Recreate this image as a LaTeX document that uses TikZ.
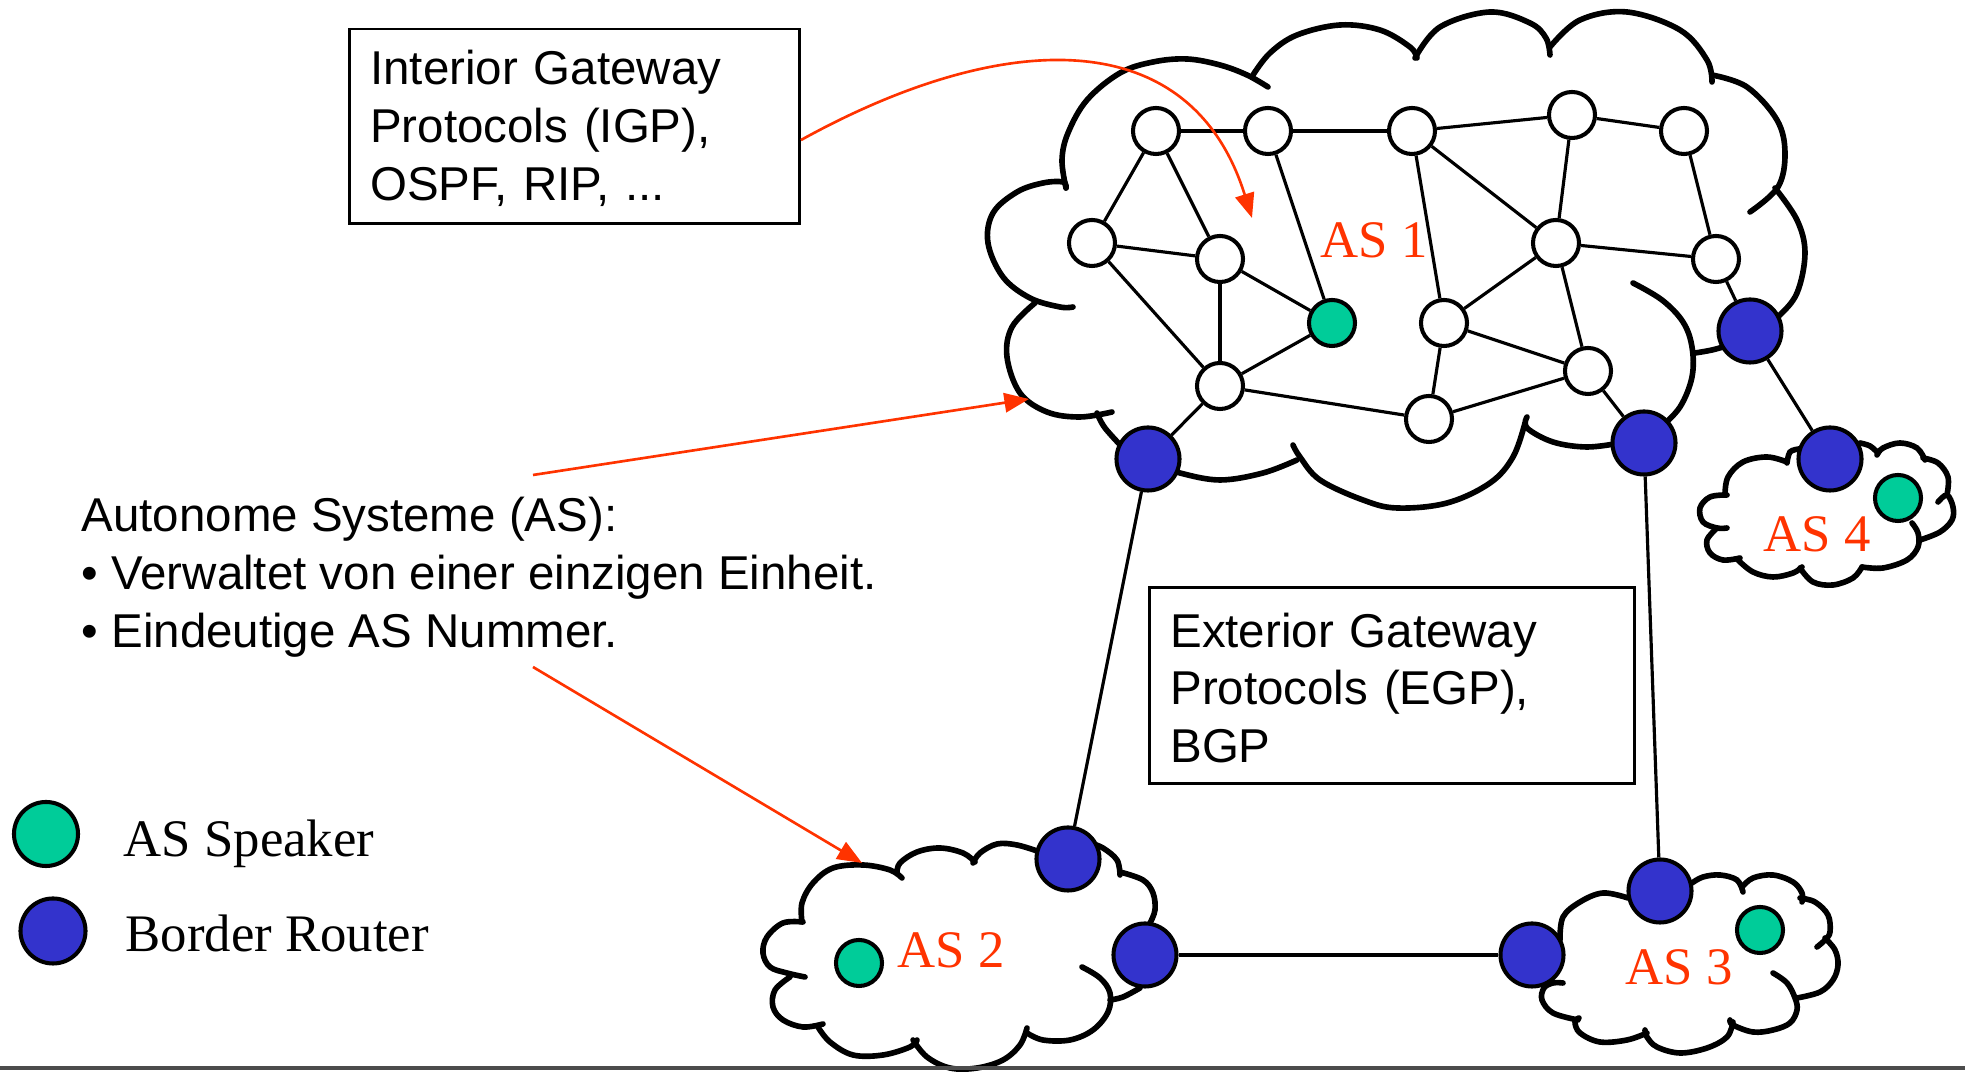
\documentclass[tikz,border=0pt]{standalone}
\usepackage{fontspec}
\setmainfont{Liberation Sans}
\newfontfamily\timesf{Liberation Serif}
\usetikzlibrary{arrows.meta}
\definecolor{asred}{RGB}{255,51,0}
\definecolor{asgreen}{RGB}{0,204,153}
\definecolor{asblue}{RGB}{51,51,204}
\newcommand\cloudarc[1]{\draw[cloudline] plot[smooth,tension=0.6] coordinates {#1};}
\begin{document}
\begin{tikzpicture}[x=0.01cm,y=-0.01cm,
  cloudline/.style={line width=1.6pt, line cap=round},
  router/.style={circle, draw, line width=1.15pt, fill=white, minimum size=0.46cm, inner sep=0},
  speaker/.style={router, fill=asgreen},
  border/.style={circle, draw, line width=1.15pt, fill=asblue, minimum size=0.63cm, inner sep=0},
  link/.style={line width=0.9pt},
  callout/.style={draw=asred, line width=0.75pt, -{Triangle[length=7pt,width=5.5pt]}},
  txtbox/.style={draw, line width=0.75pt, align=left, inner xsep=0.21cm, inner ysep=0, font=\fontsize{13.5}{16.4}\selectfont},
  sans/.style={font=\fontsize{13.5}{16.4}\selectfont, inner sep=0, anchor=base west},
  aslabel/.style={font=\timesf\fontsize{15}{18}\selectfont, text=asred, inner sep=0, anchor=base west},
  legendtext/.style={font=\timesf\fontsize{15}{18}\selectfont, inner sep=0, anchor=base west},
]
\useasboundingbox (0,0) rectangle (1965,1074);

% ---------- AS 1 cloud ----------
\cloudarc{(1066,188) (1062,160) (1068,133) (1087,100) (1120,73) (1153,62) (1187,59) (1220,65) (1247,75) (1268,87)}
\cloudarc{(1253,75) (1270,53) (1297,35) (1340,25) (1380,30) (1410,47) (1417,58)}
\cloudarc{(1415,58) (1440,27) (1490,12) (1530,23) (1546,38) (1550,55)}
\cloudarc{(1550,47) (1580,20) (1627,12) (1680,30) (1707,60) (1712,82)}
\cloudarc{(1712,75) (1747,87) (1777,120) (1785,153) (1778,187) (1750,212)}
\cloudarc{(1775,188) (1797,220) (1805,253) (1797,293) (1778,317) (1760,332)}
\cloudarc{(1730,345) (1712,350) (1695,353)}
\cloudarc{(1633,283) (1662,300) (1683,322) (1692,347) (1692,377) (1680,407) (1660,428)}
\cloudarc{(1620,443) (1587,447) (1553,442) (1527,428) (1527,417)}
\cloudarc{(1525,423) (1513,457) (1490,483) (1447,503) (1397,508) (1363,500) (1320,480) (1300,457) (1293,445)}
\cloudarc{(1297,460) (1263,473) (1220,480) (1180,473) (1160,465)}
\cloudarc{(1097,413) (1105,428) (1125,450)}
\cloudarc{(1112,412) (1080,417) (1047,412) (1020,393) (1007,357) (1012,327) (1035,303)}
\cloudarc{(1073,307) (1060,307) (1030,298) (1003,277) (988,243) (993,213) (1017,192) (1043,183) (1063,182) (1066,188)}

% ---------- AS 2 cloud ----------
\cloudarc{(803,922) (783,923) (767,937) (763,953) (770,967) (787,973) (805,977)}
\cloudarc{(790,977) (775,990) (773,1007) (783,1020) (803,1027) (823,1024)}
\cloudarc{(818,1027) (830,1042) (853,1055) (883,1055) (910,1047) (917,1040)}
\cloudarc{(913,1040) (927,1057) (950,1068) (977,1068) (1003,1060) (1020,1045) (1027,1028)}
\cloudarc{(1027,1033) (1043,1040) (1070,1040) (1093,1030) (1108,1012) (1110,993) (1100,978) (1082,967)}
\cloudarc{(1110,1000) (1123,997) (1140,988)}
\cloudarc{(1150,923) (1155,910) (1153,893) (1143,880) (1120,872)}
\cloudarc{(1120,875) (1117,860) (1103,848) (1090,843)}
\cloudarc{(1040,852) (1017,845) (997,844) (980,853) (973,863)}
\cloudarc{(975,862) (963,853) (940,848) (917,852) (900,863) (897,873)}
\cloudarc{(902,878) (890,870) (863,865) (833,868) (813,883) (802,903) (802,922)}

% ---------- AS 3 cloud ----------
\cloudarc{(1560,940) (1563,917) (1580,902) (1603,893) (1628,898)}
\cloudarc{(1692,883) (1703,877) (1720,875) (1737,880) (1743,892)}
\cloudarc{(1742,887) (1753,878) (1773,875) (1793,882) (1802,893) (1802,902)}
\cloudarc{(1800,898) (1815,902) (1828,915) (1830,932) (1825,940) (1817,947)}
\cloudarc{(1825,938) (1835,950) (1838,965) (1833,980) (1820,992) (1797,998)}
\cloudarc{(1773,973) (1787,983) (1795,998) (1797,1010) (1790,1023) (1773,1030) (1753,1032) (1733,1025) (1730,1020)}
\cloudarc{(1733,1022) (1727,1037) (1707,1048) (1680,1053) (1657,1047) (1647,1037) (1645,1030)}
\cloudarc{(1647,1033) (1627,1040) (1600,1042) (1580,1033) (1575,1022) (1579,1018)}
\cloudarc{(1578,1020) (1553,1013) (1542,1000) (1544,988) (1553,983) (1563,983)}

% ---------- AS 4 cloud ----------
\cloudarc{(1799,449) (1790,452) (1787,463)}
\cloudarc{(1787,462) (1767,457) (1743,462) (1728,477) (1725,495)}
\cloudarc{(1727,495) (1710,497) (1700,508) (1703,522) (1717,528) (1727,528)}
\cloudarc{(1717,528) (1707,540) (1710,553) (1723,560) (1740,558)}
\cloudarc{(1738,560) (1753,572) (1773,577) (1793,573) (1802,567)}
\cloudarc{(1800,568) (1813,582) (1833,585) (1853,578) (1862,567)}
\cloudarc{(1862,567) (1883,568) (1907,560) (1918,547) (1918,533) (1912,523)}
\cloudarc{(1920,540) (1940,532) (1952,520) (1953,507) (1947,495) (1938,502)}
\cloudarc{(1947,495) (1948,477) (1938,463) (1923,458)}
\cloudarc{(1925,460) (1917,448) (1900,443) (1883,448) (1877,455)}
\cloudarc{(1878,453) (1870,446) (1860,443)}

% ---------- AS 1 routers ----------
\node[router] (n1) at (1156,131) {};
\node[router] (n2) at (1268,131) {};
\node[router] (n3) at (1412,131) {};
\node[router] (n4) at (1572,115) {};
\node[router] (n5) at (1684,131) {};
\node[router] (n6) at (1092,243) {};
\node[router] (n7) at (1220,259) {};
\node[speaker] (n8) at (1332,323) {};
\node[router] (n9) at (1556,243) {};
\node[router] (n10) at (1716,259) {};
\node[router] (n11) at (1444,323) {};
\node[router] (n12) at (1220,386) {};
\node[router] (n13) at (1588,371) {};
\node[router] (n14) at (1429,419) {};
\node[border] (b1) at (1148,459) {};
\node[border] (b2) at (1644,443) {};
\node[border] (b3) at (1750,331) {};

% ---------- other AS routers ----------
\node[border] (b4) at (1830,459) {};
\node[speaker] (s4) at (1898,498) {};
\node[speaker] (s2) at (859,963) {};
\node[border] (a2t) at (1068,859) {};
\node[border] (a2r) at (1145,955) {};
\node[speaker] (s3) at (1760,930) {};
\node[border] (a3t) at (1660,891) {};
\node[border] (a3l) at (1532,955) {};

% ---------- links ----------
\foreach \a/\b in {n1/n2,n2/n3,n3/n4,n4/n5,n1/n6,n1/n7,n2/n8,n3/n11,n3/n9,n4/n9,n5/n10,
  n6/n7,n6/n12,n7/n8,n7/n12,n12/n8,n9/n10,n9/n11,n9/n13,n11/n13,n11/n14,n12/n14,n13/n14,
  n12/b1,n13/b2,n10/b3,b3/b4,b1/a2t,b2/a3t,a2r/a3l}
  \draw[link] (\a) -- (\b);

% ---------- AS labels ----------
\node[aslabel] (l1) at (1320,258) {AS 1};
\node[aslabel] (l2) at (897,968) {AS 2};
\node[aslabel] (l3) at (1625,985) {AS 3};
\node[aslabel] (l4) at (1763,552) {AS 4};

% ---------- text boxes ----------
\node[txtbox, anchor=north west, minimum width=4.5cm, minimum height=1.942cm, text width=4.08cm] (igp) at (348,27.6)
  {\rule{0pt}{11pt}Interior Gateway\\Protocols (IGP),\\OSPF, RIP, ...};
\node[txtbox, anchor=north west, minimum width=4.85cm, minimum height=1.955cm, text width=4.43cm] (egp) at (1148,586.5)
  {\rule{0pt}{11pt}Exterior Gateway\\Protocols (EGP),\\BGP};

% ---------- AS description ----------
\node[sans] (t1) at (81,532) {Autonome Systeme (AS):};
\node[sans] (t2) at (81,590) {• Verwaltet von einer einzigen Einheit.};
\node[sans] (t3) at (81,648) {• Eindeutige AS Nummer.};

% ---------- legend ----------
\node[speaker, minimum size=0.64cm] (lg) at (46,834) {};
\node[border, minimum size=0.65cm] (lb) at (53,931) {};
\node[legendtext] (lgt) at (123,857) {AS Speaker};
\node[legendtext] (lbt) at (125,952) {Border Router};

% ---------- red arrows ----------
\coordinate (igpTip) at (1252,218);
\draw[callout] ([yshift=-0.14cm]igp.east) .. controls (1000,30) and (1190,20) .. (igpTip);
\coordinate (asA) at (533,475);
\coordinate (asAtip) at (1029,399);
\draw[callout] (asA) -- (asAtip);
\coordinate (asB) at (533,667);
\coordinate (asBtip) at (862,863);
\draw[callout] (asB) -- (asBtip);

% ---------- bottom rule ----------
\coordinate (ruleL) at (0,1068);
\coordinate (ruleR) at (1965,1068);
\draw[line width=0.9pt, black!70] (ruleL) -- (ruleR);
\end{tikzpicture}
\end{document}
